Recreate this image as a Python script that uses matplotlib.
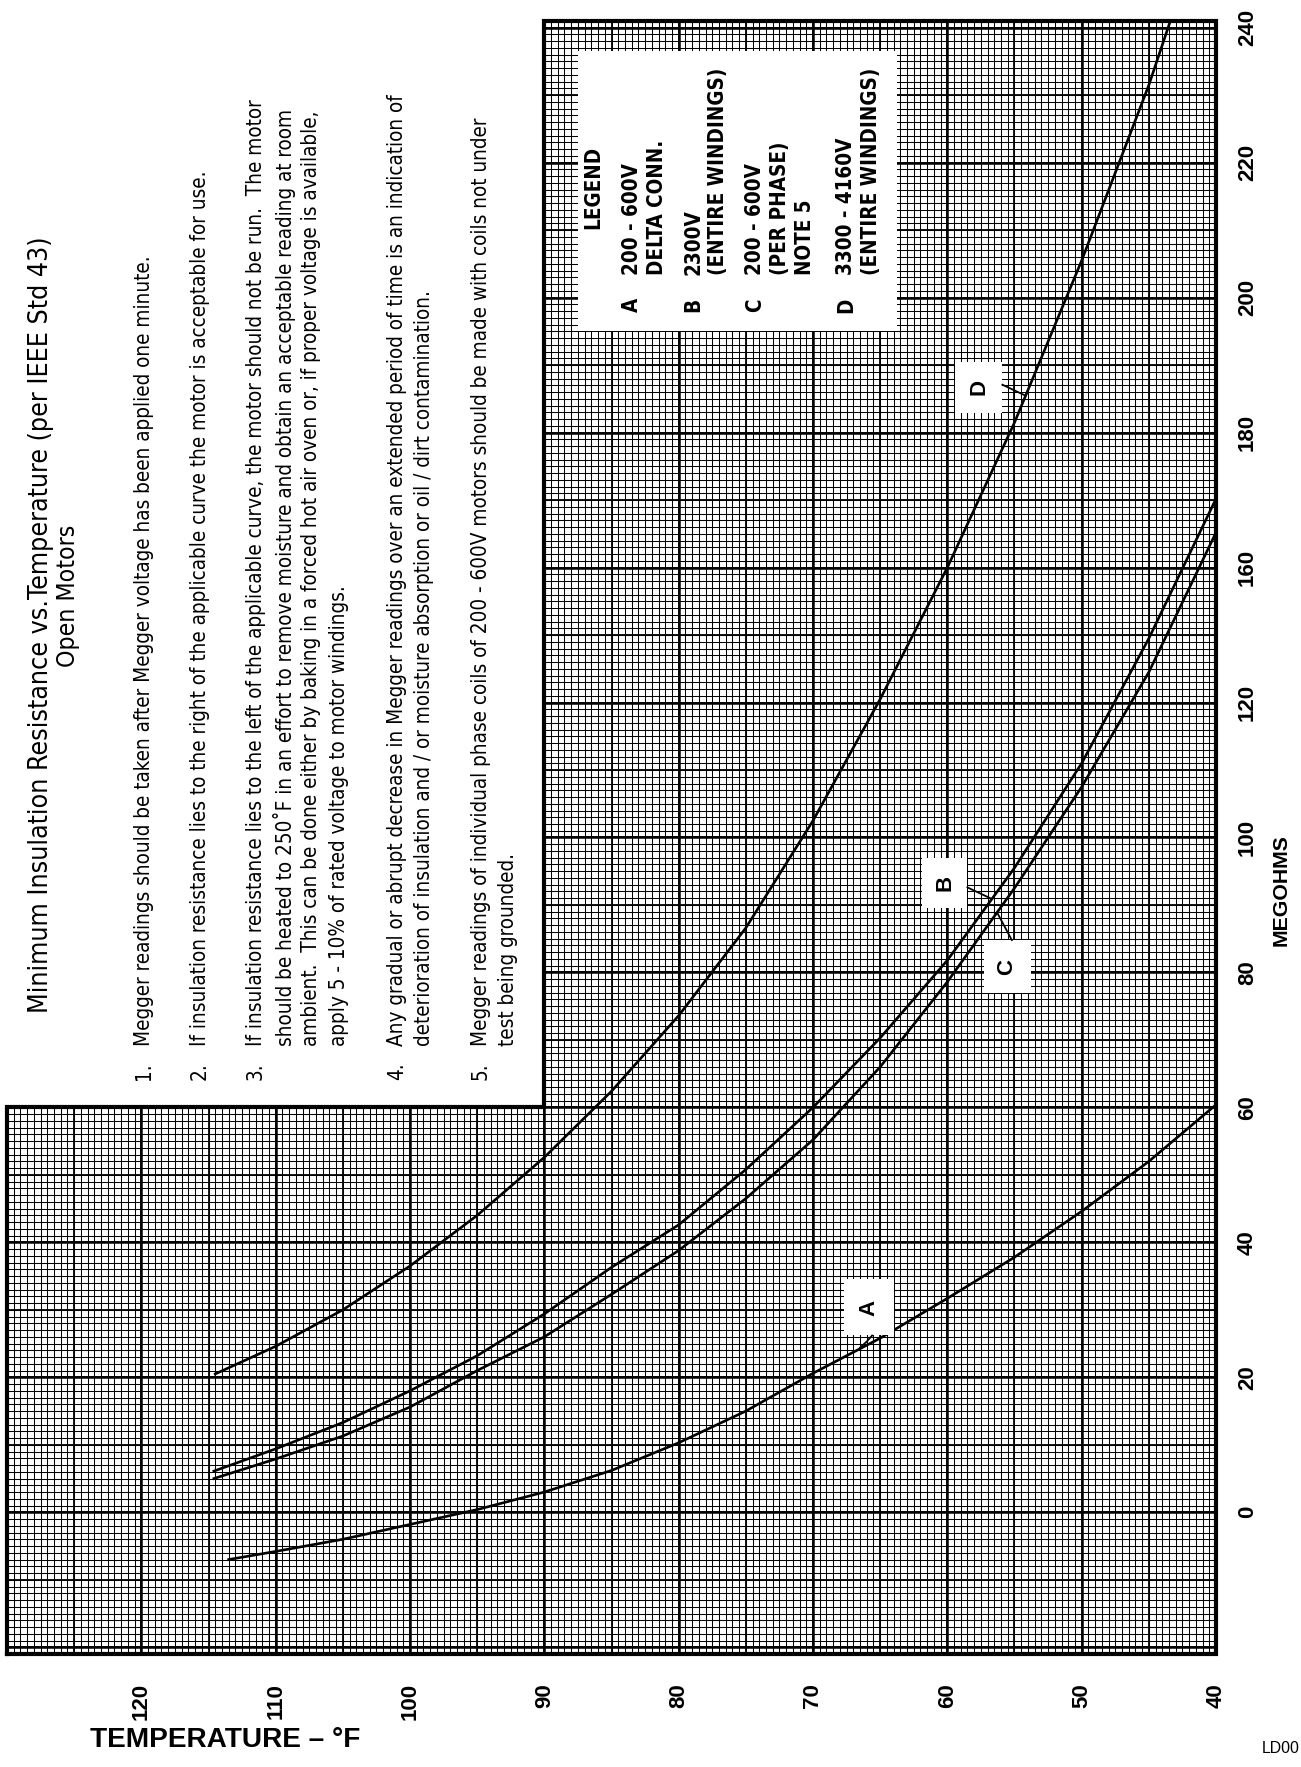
import matplotlib
matplotlib.use("Agg")
import matplotlib.pyplot as plt
from matplotlib import font_manager
from matplotlib.patches import Rectangle
import numpy as np

# axis ticks (the printed megohm scale skips 140, so labels sit on grid positions)
temp_ticks = [120, 110, 100, 90, 80, 70, 60, 50, 40]
megohm_pos = [0, 20, 40, 60, 80, 100, 120, 140, 160, 180, 200, 220]
megohm_labels = ["0", "20", "40", "60", "80", "100", "120", "160", "180", "200", "220", "240"]

# curves in grid units
temp_A = [113.5, 110, 105, 100, 95, 90, 85, 80, 75, 70, 65, 60, 55, 50, 45, 40]
meg_A = [-7.0, -5.8, -4.0, -1.8, 0.4, 3.0, 6.2, 10.3, 15.0, 20.6, 25.8, 31.7, 37.8, 44.6, 52.0, 60.4]

temp_B = [114.6, 110, 105, 100, 95, 90, 85, 80, 75, 70, 65, 60, 55, 50, 45, 40]
meg_B = [6.1, 9.4, 13.3, 18.0, 23.2, 29.4, 36.3, 42.6, 50.8, 60.0, 70.3, 81.8, 95.5, 111.0, 129.5, 150.2]

temp_C = [114.6, 110, 105, 100, 95, 90, 85, 80, 75, 70, 65, 60, 55, 50, 45, 40]
meg_C = [5.0, 7.9, 11.3, 15.6, 21.0, 26.0, 32.3, 38.8, 46.5, 55.2, 66.0, 78.6, 92.5, 107.5, 124.5, 145.2]

temp_D = [114.5, 110, 105, 100, 95, 90, 85, 80, 75, 70, 65, 60, 55, 50, 45, 43.4]
meg_D = [20.5, 24.6, 30.0, 36.5, 44.0, 52.6, 62.4, 73.6, 86.6, 102.5, 120.5, 140.0, 161.5, 185.5, 211.5, 221.0]

notes = [
    ("1.", ["Megger readings should be taken after Megger voltage has been applied one minute."]),
    ("2.", ["If insulation resistance lies to the right of the applicable curve the motor is acceptable for use."]),
    ("3.", ["If insulation resistance lies to the left of the applicable curve, the motor should not be run.  The motor",
            "should be heated to 250\u02daF in an effort to remove moisture and obtain an acceptable reading at room",
            "ambient.  This can be done either by baking in a forced hot air oven or, if proper voltage is available,",
            "apply 5 - 10% of rated voltage to motor windings."]),
    ("4.", ["Any gradual or abrupt decrease in Megger readings over an extended period of time is an indication of",
            "deterioration of insulation and / or moisture absorption or oil / dirt contamination."]),
    ("5.", ["Megger readings of individual phase coils of 200 - 600V motors should be made with coils not under",
            "test being grounded."]),
]

legend_rows = [
    ("A", ["200 - 600V", "DELTA CONN."]),
    ("B", ["2300V", "(ENTIRE WINDINGS)"]),
    ("C", ["200 - 600V", "(PER PHASE)", "NOTE 5"]),
    ("D", ["3300 - 4160V", "(ENTIRE WINDINGS)"]),
]

fonts = font_manager.fontManager.ttflist
names = {f.name for f in fonts}
SANS = "Liberation Sans" if "Liberation Sans" in names else "DejaVu Sans"
if "Liberation Sans Narrow" in names:
    NARROW, STRETCH = "Liberation Sans Narrow", "normal"
elif any(f.name == "DejaVu Sans" and f.stretch == "condensed" for f in fonts):
    NARROW, STRETCH = "DejaVu Sans", "condensed"
else:
    NARROW, STRETCH = SANS, "normal"

W, H = 1301, 1767
fig = plt.figure(figsize=(W / 100, H / 100), dpi=100)
fig.patch.set_facecolor("white")


def px(x, y):
    return x / W, 1 - y / H


def fit(t, length):
    bb = t.get_window_extent(renderer=fig.canvas.get_renderer())
    t.set_fontsize(t.get_fontsize() * length / max(bb.width, bb.height))


ax = fig.add_axes([7 / W, 1 - 1654 / H, 1209 / W, 1633 / H])
ax.set_xlim(130, 40)
ax.set_ylim(-21, 221)
for s in ax.spines.values():
    s.set_visible(False)

# graph paper
ax.vlines(np.arange(40, 130.01, 0.5), -21, 221, color="black", lw=0.75, zorder=1)
ax.hlines(np.arange(-21, 221.01, 1), 40, 130, color="black", lw=0.75, zorder=1)
ax.vlines(np.arange(40, 130.01, 5), -21, 221, color="black", lw=1.3, zorder=1)
ax.hlines(np.arange(-20, 221, 10), 40, 130, color="black", lw=1.3, zorder=1)
ax.vlines(np.arange(40, 130.01, 10), -21, 221, color="black", lw=1.8, zorder=1)
ax.hlines(np.arange(-20, 221, 20), 40, 130, color="black", lw=1.8, zorder=1)

# white notes area and legend box
ax.add_patch(Rectangle((90, 60), 42, 165, facecolor="white", edgecolor="none", zorder=2, clip_on=False))
ax.add_patch(Rectangle((63.75, 175), 23.75, 41.5, facecolor="white", edgecolor="none", zorder=2))

# L-shaped border
ax.plot([130, 40, 40, 90, 90, 130, 130], [-21, -21, 221, 221, 60, 60, -21],
        color="black", lw=3, zorder=5, clip_on=False, solid_joinstyle="miter")

for tt, mm in [(temp_A, meg_A), (temp_B, meg_B), (temp_C, meg_C), (temp_D, meg_D)]:
    ax.plot(tt, mm, color="black", lw=1.9, zorder=3)

# curve tags
tags = [("A", 64.0, 26.2, 3.7, 8.3), ("B", 58.5, 89.5, 3.4, 7.4),
        ("C", 53.8, 76.9, 3.5, 7.9), ("D", 55.9, 162.9, 3.5, 7.6)]
for lab, t0, p0, w, h in tags:
    ax.add_patch(Rectangle((t0, p0), w, h, facecolor="white", edgecolor="none", zorder=4))
    ax.text(t0 + w / 2, p0 + h / 2, lab, rotation=90, ha="center", va="center",
            fontsize=16, fontweight="bold", family=SANS, zorder=5)
ax.plot([65.6, 66.0, 66.5], [26.2, 25.3, 24.4], color="black", lw=1.3, zorder=4)
ax.plot([58.5, 56.8], [92.6, 91.0], color="black", lw=1.3, zorder=4)
ax.plot([55.2, 56.3], [84.8, 88.9], color="black", lw=1.3, zorder=4)
ax.plot([55.9, 54.2], [167.1, 165.5], color="black", lw=1.3, zorder=4)

ax.set_xticks(temp_ticks)
ax.set_xticklabels([str(t) for t in temp_ticks], rotation=90, fontsize=16,
                   fontweight="bold", family=SANS)
ax.tick_params(axis="x", length=0, pad=21)
ax.yaxis.tick_right()
ax.set_yticks(megohm_pos)
ax.set_yticklabels(megohm_labels, rotation=90, va="center", fontsize=16,
                   fontweight="bold", family=SANS)
ax.tick_params(axis="y", length=0, pad=15)

# title and notes
t = fig.text(*px(41, 1013), "Minimum Insulation Resistance vs.Temperature (per IEEE Std 43)",
             rotation=90, ha="center", va="bottom", family=NARROW, stretch=STRETCH, fontsize=16)
fit(t, 781)
t = fig.text(*px(68, 596), "Open Motors", rotation=90, ha="center", va="center",
             family=NARROW, stretch=STRETCH, fontsize=16)
fit(t, 143)

cols = iter([144, 200, 256, 284, 311, 339, 397, 424, 481, 508])
note_texts = []
first = None
for num, lines in notes:
    for i, line in enumerate(lines):
        x = next(cols)
        if i == 0:
            note_texts.append(fig.text(*px(x, 1071), num, rotation=90, ha="center",
                                       va="center", family=NARROW, stretch=STRETCH, fontsize=12))
        nt = fig.text(*px(x, 1046), line, rotation=90, ha="center", va="bottom",
                      family=NARROW, stretch=STRETCH, fontsize=12)
        note_texts.append(nt)
        if first is None:
            first = nt
fit(first, 796)
for nt in note_texts:
    nt.set_fontsize(first.get_fontsize())

# legend
leg = [fig.text(*px(593, 187), "LEGEND", rotation=90, ha="center", va="center",
                family=NARROW, stretch=STRETCH, fontweight="bold", fontsize=12)]
leg_cols = [[632, 657], [693, 718], [755, 780, 805], [846, 871]]
ref = None
for (lab, lines), xs in zip(legend_rows, leg_cols):
    leg.append(fig.text(*px(xs[0], 305), lab, rotation=90, ha="center", va="center",
                        family=NARROW, stretch=STRETCH, fontweight="bold", fontsize=12))
    for x, line in zip(xs, lines):
        lt = fig.text(*px(x, 275), line, rotation=90, ha="center", va="bottom",
                      family=NARROW, stretch=STRETCH, fontweight="bold", fontsize=12)
        leg.append(lt)
        if line == "(ENTIRE WINDINGS)" and ref is None:
            ref = lt
fit(ref, 207)
for lt in leg:
    lt.set_fontsize(ref.get_fontsize())

# axis titles
t = fig.text(*px(90, 1740), "TEMPERATURE \u2013 \u00b0F", ha="left", va="center",
             family=SANS, fontweight="bold", fontsize=16)
fit(t, 272)
t = fig.text(*px(1281, 890), "MEGOHMS", rotation=90, ha="center", va="center",
             family=SANS, fontweight="bold", fontsize=16)
fit(t, 112)
t = fig.text(*px(1300, 1748), "LD00", ha="right", va="center", family=SANS, fontsize=12)
fit(t, 38)

fig.savefig("out.png", dpi=100, facecolor="white")
